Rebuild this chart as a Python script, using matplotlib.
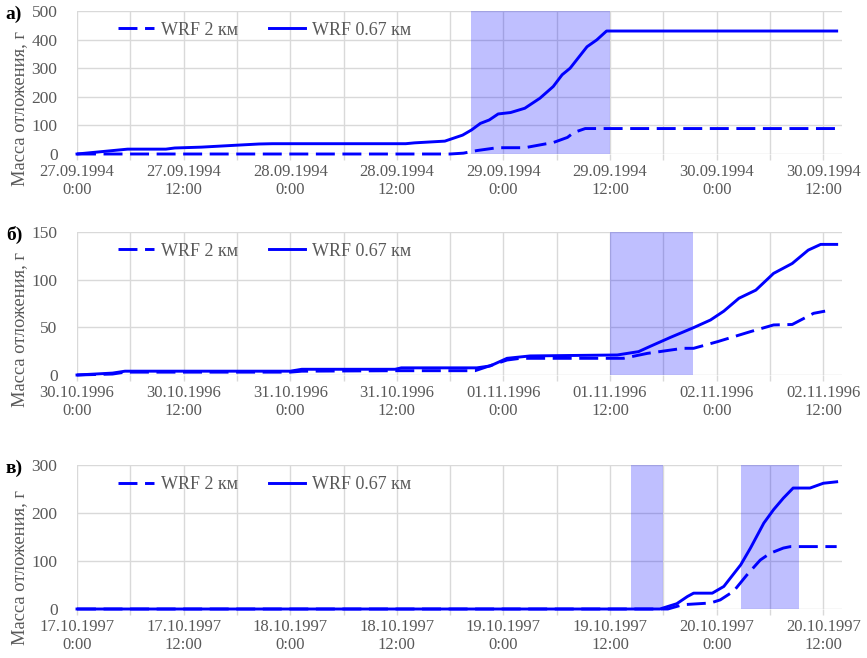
import matplotlib
matplotlib.use("Agg")
import matplotlib.pyplot as plt

plt.rcParams['font.family'] = ['Liberation Serif', 'DejaVu Serif']

# подписи оси времени (каждые 12 ч)
labels_a = ['27.09.1994\n0:00', '27.09.1994\n12:00', '28.09.1994\n0:00', '28.09.1994\n12:00',
            '29.09.1994\n0:00', '29.09.1994\n12:00', '30.09.1994\n0:00', '30.09.1994\n12:00']
labels_b = ['30.10.1996\n0:00', '30.10.1996\n12:00', '31.10.1996\n0:00', '31.10.1996\n12:00',
            '01.11.1996\n0:00', '01.11.1996\n12:00', '02.11.1996\n0:00', '02.11.1996\n12:00']
labels_c = ['17.10.1997\n0:00', '17.10.1997\n12:00', '18.10.1997\n0:00', '18.10.1997\n12:00',
            '19.10.1997\n0:00', '19.10.1997\n12:00', '20.10.1997\n0:00', '20.10.1997\n12:00']

# а) часы от начала и масса отложения, г
t_a_067 = [0, 5.7, 10, 11, 14, 17.5, 20.5, 22, 37, 38, 41.4, 43.4, 44.4, 45.4, 46.4, 47.4,
           48.8, 50.4, 52.1, 53.6, 54.6, 55.5, 57.4, 58.5, 59.6, 85.5]
m_a_067 = [0, 17, 17, 21, 24, 30, 35, 36, 36, 39, 45, 66, 84, 107, 119, 140,
           145, 160, 195, 236, 277, 300, 375, 399, 430, 430]
t_a_2 = [0, 42, 43.5, 45, 47.3, 50.4, 52.5, 53.6, 55.2, 55.9, 57.2, 85.5]
m_a_2 = [0, 0, 3, 12, 22, 22, 34, 40, 58, 75, 89, 89]

# б)
t_b_067 = [0, 2, 4, 5.4, 24, 25.3, 35.8, 36.5, 45, 46.5, 48.4, 51, 60.8, 63.2, 64.5, 66.8,
           69.4, 71.3, 72.8, 74.5, 76.4, 78.4, 80.5, 82.3, 83.7, 85.5]
m_b_067 = [0, 1, 2, 4, 4, 6, 6, 7.5, 7.5, 9.5, 17.5, 20, 21, 24.5, 30, 39.5,
           49.7, 57.7, 67, 80.5, 89, 106.6, 117, 131, 137, 137]
t_b_2 = [0, 4, 5.4, 24, 25.3, 36, 44.8, 48.4, 49.9, 61.5, 64.2, 68.2, 69.4, 72.1, 75.8,
         78.4, 80.5, 82.9, 84.2]
m_b_2 = [0, 1, 3, 3, 4, 4.5, 4.5, 15.7, 17.5, 17.5, 22.7, 28, 28, 35, 45.5,
         52.5, 53, 64.7, 67]

# в)
t_c_067 = [0, 65.6, 67.5, 68.7, 69.4, 71.5, 72.8, 74.7, 75.8, 77.3, 78.4, 79.5, 80.6, 82.5, 84, 85.5]
m_c_067 = [0, 0, 11, 26, 33, 33, 47, 92, 127, 179, 207, 231, 252, 252, 262, 265]
t_c_2 = [0, 66.5, 68.2, 71.3, 72.4, 73.9, 75.4, 76.9, 78, 79.5, 80.3, 85.5]
m_c_2 = [0, 0, 9, 12.5, 19, 37, 71, 102, 116, 127, 130, 130]

# интервалы наблюдений (заливка)
spans_a = [(44.4, 60)]
spans_b = [(60, 69.3)]
spans_c = [(62.4, 66), (74.7, 81.3)]

ymax_a, ystep_a = 500, 100
ymax_b, ystep_b = 150, 50
ymax_c, ystep_c = 300, 100

gray = '#595959'
grid = '#d9d9d9'
blue = '#0000ff'

fig = plt.figure(figsize=(8.67, 6.58), dpi=100)
W, H = 867, 658
left, right = 77, 842
boxes = [(11, 154), (232, 375), (465, 609)]
label_y = [0.315, 0.318, 0.29]

panels = [
    ('а)', labels_a, t_a_2, m_a_2, t_a_067, m_a_067, spans_a, ymax_a, ystep_a),
    ('б)', labels_b, t_b_2, m_b_2, t_b_067, m_b_067, spans_b, ymax_b, ystep_b),
    ('в)', labels_c, t_c_2, m_c_2, t_c_067, m_c_067, spans_c, ymax_c, ystep_c),
]

for (top, bot), ly, (letter, labels, t2, m2, t067, m067, spans, ymax, ystep) in zip(boxes, label_y, panels):
    ax = fig.add_axes([left / W, 1 - bot / H, (right - left) / W, (bot - top) / H])
    for s0, s1 in spans:
        ax.axvspan(s0, s1, facecolor=blue, alpha=0.25, edgecolor='none', zorder=1)
    ax.plot(t2, m2, color=blue, lw=2.1, dashes=(6.5, 2.6), label='WRF 2 км', zorder=3, clip_on=False)
    ax.plot(t067, m067, color=blue, lw=2.1, label='WRF 0.67 км', zorder=3, clip_on=False)

    ax.set_xlim(0, 86.1)
    ax.set_ylim(0, ymax)
    ax.set_xticks(range(0, 85, 6))
    ax.set_xticklabels([labels[i // 2] if i % 2 == 0 else '' for i in range(15)])
    ax.set_yticks(range(0, ymax + 1, ystep))
    ax.grid(True, color=grid, lw=1, zorder=0)
    ax.set_axisbelow(True)
    for sp in ax.spines.values():
        sp.set_visible(False)
    ax.tick_params(axis='x', length=4, color=grid, width=1, labelsize=12, labelcolor=gray, pad=3)
    ax.tick_params(axis='y', length=0, labelsize=12.5, labelcolor=gray, pad=14)
    for lab in ax.get_xticklabels():
        lab.set_linespacing(1.15)

    ax.set_ylabel('Масса отложения, г', fontsize=13.3, color=gray)
    ax.yaxis.set_label_coords(-0.064, ly)

    ax.legend(loc='center left', bbox_to_anchor=(0.0536, 0.865), ncol=2, frameon=False,
              fontsize=13, labelcolor=gray, borderpad=0, borderaxespad=0,
              handlelength=2.0, handletextpad=0.4, columnspacing=1.7)

    fig.text(14 / W, 1 - (top + 3) / H, letter, fontsize=14, fontweight='bold',
             ha='center', va='center', color='black')

fig.savefig('out.png', dpi=100)
